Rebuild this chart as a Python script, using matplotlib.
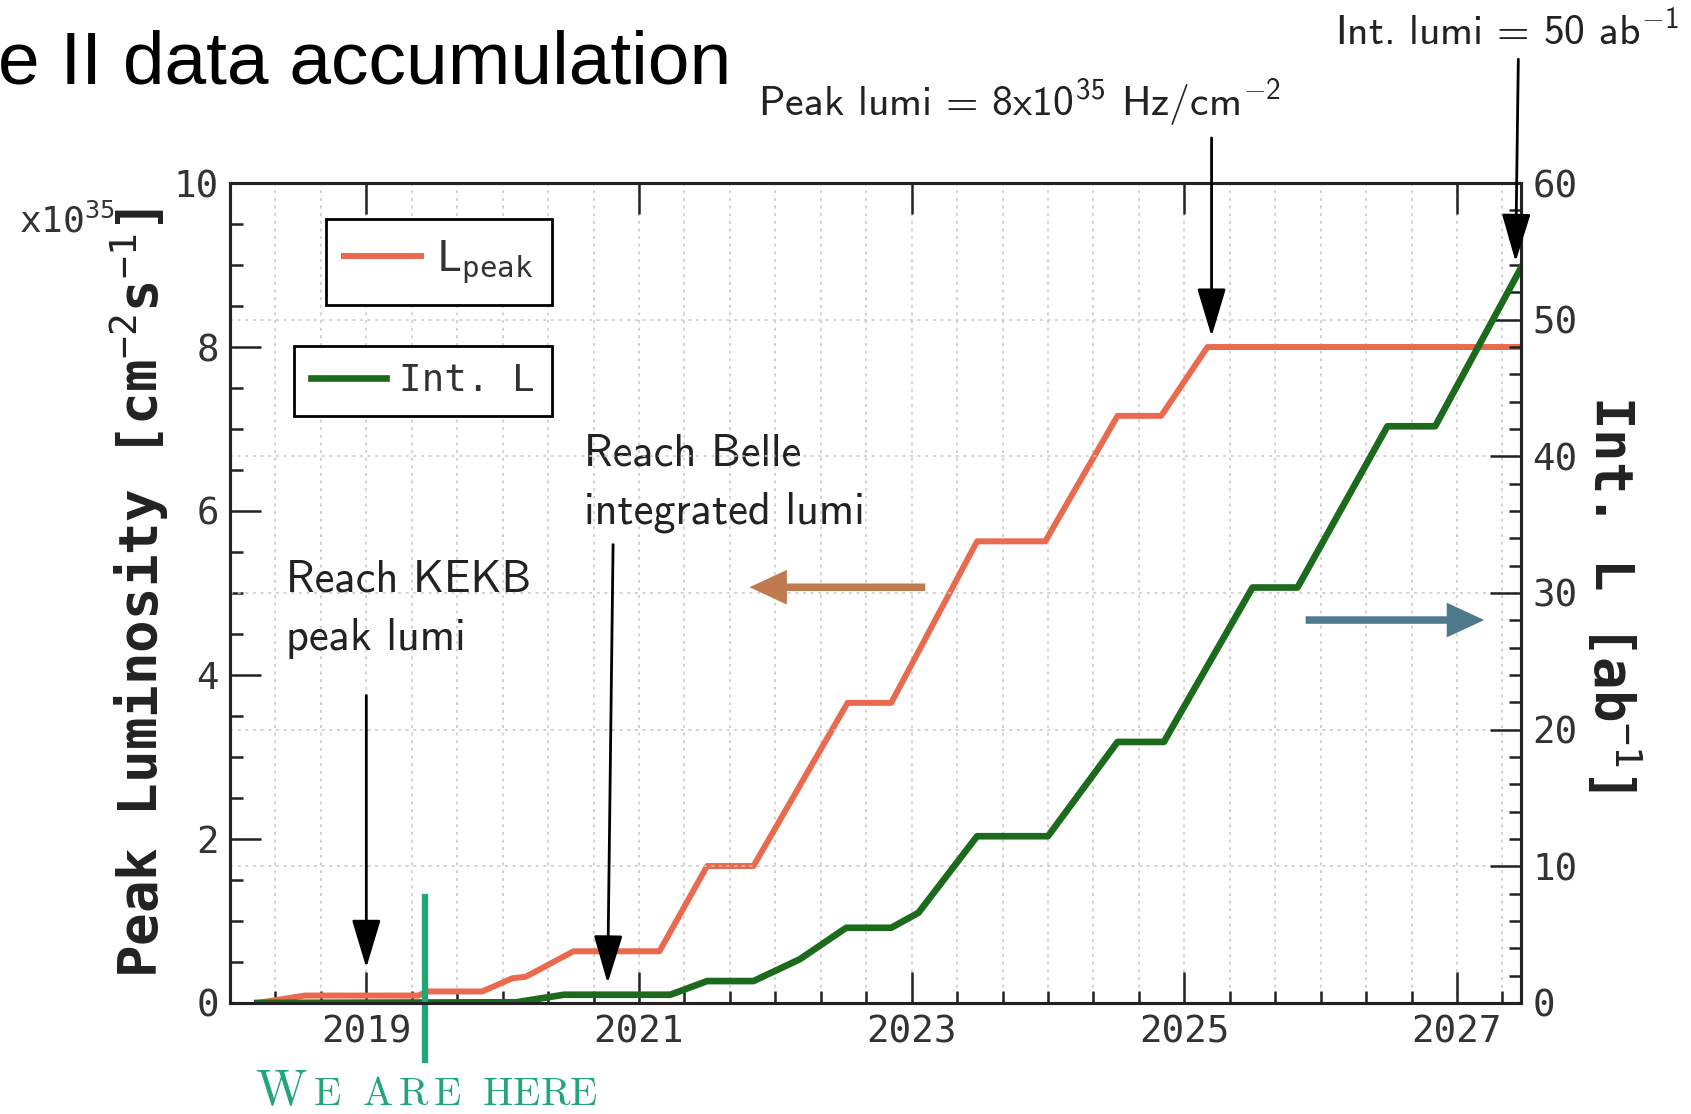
import matplotlib
matplotlib.use('Agg')
import matplotlib.pyplot as plt
from matplotlib.ticker import MultipleLocator, FixedLocator

plt.rcParams['font.family'] = 'DejaVu Sans Mono'
plt.rcParams['mathtext.rm'] = 'cmss10'
plt.rcParams['mathtext.it'] = 'cmss10'
plt.rcParams['mathtext.sf'] = 'cmss10'
plt.rcParams['mathtext.fallback'] = 'cm'

# peak luminosity [x1e35 cm^-2 s^-1] vs year (left axis)
peak_year = [2018.2, 2018.55, 2019.38, 2019.45, 2019.85, 2020.07, 2020.17, 2020.52,
             2021.15, 2021.5, 2021.84, 2022.53, 2022.85, 2023.48, 2023.98, 2024.51,
             2024.83, 2025.17, 2027.47]
peak_lumi = [0, 0.09, 0.09, 0.14, 0.14, 0.30, 0.32, 0.63,
             0.63, 1.67, 1.67, 3.66, 3.66, 5.63, 5.63, 7.16,
             7.16, 8.0, 8.0]

# integrated luminosity [ab^-1] vs year (right axis)
int_year = [2018.2, 2020.1, 2020.45, 2021.23, 2021.5, 2021.84, 2022.18, 2022.52,
            2022.85, 2023.05, 2023.48, 2024.0, 2024.51, 2024.85, 2025.5, 2025.83,
            2026.49, 2026.84, 2027.47]
int_lumi = [0, 0.05, 0.6, 0.6, 1.6, 1.6, 3.2, 5.5,
            5.5, 6.6, 12.2, 12.2, 19.1, 19.1, 30.4, 30.4,
            42.2, 42.2, 53.8]

year_ticks = [2019, 2021, 2023, 2025, 2027]
here_year = 2019.43

# black annotation arrows (tail -> tip), left-axis units
arrow_tails = [(2019.0, 3.75), (2020.81, 5.59), (2025.2, 10.55), (2027.45, 11.51)]
arrow_tips = [(2019.0, 0.43), (2020.77, 0.24), (2025.2, 8.13), (2027.43, 9.04)]

red = '#ea6a50'
green = '#1c6b1c'
teal = '#22a676'

fig = plt.figure(figsize=(16.91, 11.14), dpi=100)
ax = fig.add_axes([0.136, 0.0997, 0.7635, 0.736])
ax2 = ax.twinx()

ax.plot(peak_year, peak_lumi, color=red, lw=4.3, label=r'$\mathtt{L}_{\mathtt{peak}}$')
ax2.plot(int_year, int_lumi, color=green, lw=4.8, label='Int. L')

ax.set_xlim(2018, 2027.47)
ax.set_ylim(0, 10)
ax2.set_ylim(0, 60)

ax.xaxis.set_major_locator(FixedLocator(year_ticks))
ax.xaxis.set_minor_locator(MultipleLocator(1 / 3))
ax.yaxis.set_major_locator(MultipleLocator(2))
ax.yaxis.set_minor_locator(MultipleLocator(0.5))
ax2.yaxis.set_major_locator(MultipleLocator(10))
ax2.yaxis.set_minor_locator(MultipleLocator(2))

for a in (ax, ax2):
    a.tick_params(which='both', direction='in', labelsize=27, width=1.8,
                  color='#222', labelcolor='#333', pad=8)
    a.tick_params(which='major', length=22)
    a.tick_params(which='minor', length=9)
    for s in a.spines.values():
        s.set_linewidth(2.2)
        s.set_color('#222')
ax.tick_params(axis='x', top=True)
ax.tick_params(axis='y', right=False)

ax.grid(axis='x', which='both', color='#c8c8c8', ls=(0, (2, 3)), lw=1.1)
ax2.grid(axis='y', which='major', color='#c8c8c8', ls=(0, (2, 3)), lw=1.1)

ax.set_ylabel(r'Peak Luminosity [cm$^{\mathtt{-2}}$s$^{\mathtt{-1}}$]',
              weight='bold', size=39, color='#222', va='center')
ax.yaxis.set_label_coords(-0.07, 0.5)
ax2.set_ylabel(r'Int. L [ab$^{\mathtt{-1}}$]', weight='bold', size=39,
               color='#222', rotation=-90, va='center')
ax2.yaxis.set_label_coords(1.0705, 0.5)

fig.text(0.0115, 0.8016, r'x10$^{\mathtt{35}}$', size=26, va='center', color='#333')

leg_kw = dict(loc='upper right', fancybox=False, edgecolor='k', framealpha=1,
              borderaxespad=0, handletextpad=0.35, borderpad=0.45)
leg1 = ax.legend(bbox_to_anchor=(0.2494, 0.956), prop=dict(size=30), handlelength=1.85,
                 **leg_kw)
leg2 = ax2.legend(bbox_to_anchor=(0.2494, 0.801), prop=dict(size=27), handlelength=2.0,
                  **leg_kw)
for lg in (leg1, leg2):
    lg.get_frame().set_linewidth(2)
    for t in lg.get_texts():
        t.set_color('#333')

# black arrows
for tail, tip in zip(arrow_tails, arrow_tips):
    ax2.annotate('', xy=tip, xytext=tail, xycoords=ax.transData, textcoords=ax.transData,
                 arrowprops=dict(arrowstyle='-|>,head_length=1.5,head_width=0.45',
                                 mutation_scale=20, lw=2, color='k', shrinkA=0, shrinkB=0),
                 annotation_clip=False)

# coloured "which axis" arrows
ax2.annotate('', xy=(2021.81, 5.07), xytext=(2023.1, 5.07), xycoords=ax.transData,
             textcoords=ax.transData,
             arrowprops=dict(arrowstyle='simple,head_length=1.35,head_width=1.25,tail_width=0.27',
                             mutation_scale=20, fc='#bf7b4f', ec='none', shrinkA=0, shrinkB=0))
ax2.annotate('', xy=(2027.2, 4.67), xytext=(2025.89, 4.67), xycoords=ax.transData,
             textcoords=ax.transData,
             arrowprops=dict(arrowstyle='simple,head_length=1.35,head_width=1.25,tail_width=0.27',
                             mutation_scale=20, fc='#4e7b8c', ec='none', shrinkA=0, shrinkB=0))

tkw = dict(family='cmss10', math_fontfamily='custom', color='#222')
ax.text(2018.41, 5.41, 'Reach KEKB\npeak lumi', va='top', ha='left', linespacing=1.55,
        size=32, **tkw)
ax.text(2020.6, 6.95, 'Reach Belle\nintegrated lumi', va='top', ha='left',
        linespacing=1.55, size=32, **tkw)
ax.text(2023.79, 11.3, r'Peak lumi = 8x10$^{35}$ Hz/cm$^{-2}$', va='top', ha='center',
        size=30, **tkw)
ax.text(2027.37, 12.12, r'Int. lumi = 50 ab$^{-1}$', va='top', ha='center', size=30, **tkw)

# "we are here" marker
ax2.plot([here_year, here_year], [1.29, -0.70], transform=ax.transData, clip_on=False,
         color=teal, lw=4.5)
fig.text(0.151, 0.008, r'$\mathrm{W}$', math_fontfamily='cm', size=36, color=teal)
fig.text(0.185, 0.008, r'$\mathrm{E\;\ A\,R\,E\;\ HERE}$', math_fontfamily='cm', size=29,
         color=teal)

fig.text(-0.001, 0.9246, 'e II data accumulation', family='Liberation Sans', size=54,
         va='baseline', ha='left', color='k')

fig.savefig('out.png', dpi=100)
